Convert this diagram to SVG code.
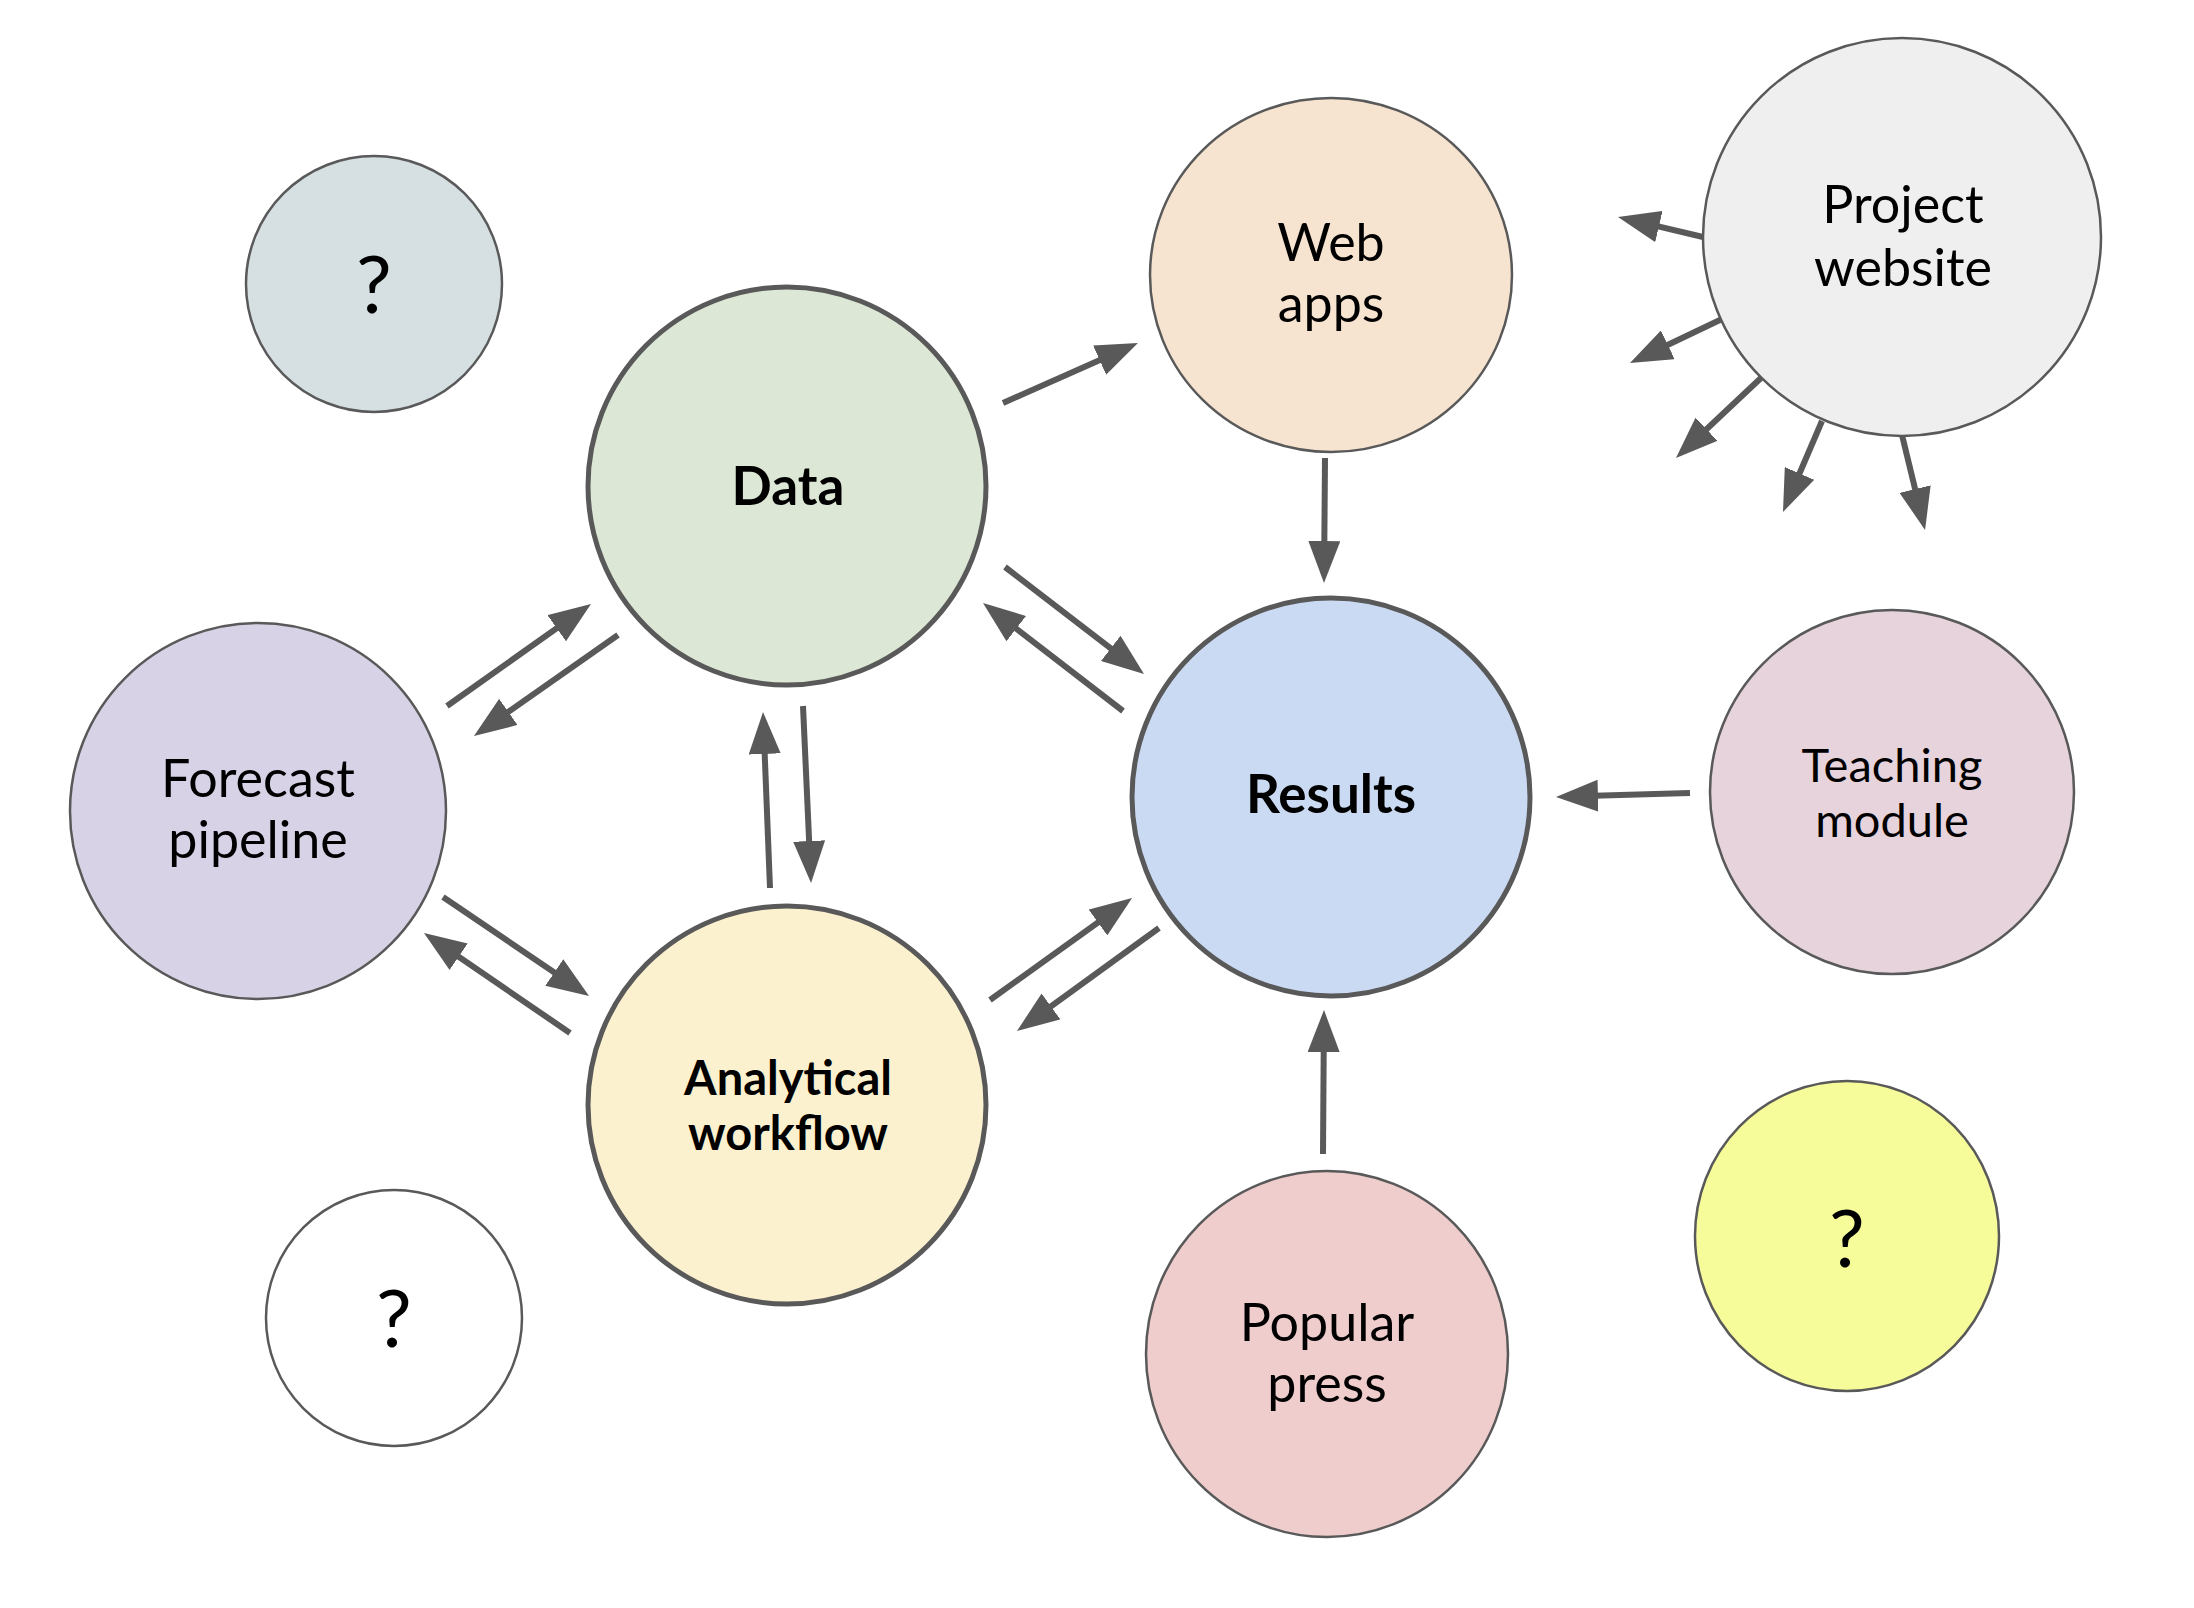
<svg xmlns="http://www.w3.org/2000/svg" width="2194" height="1608" viewBox="0 0 2194 1608">
<style>
.n{stroke:#595959;stroke-width:2.5}
.k{stroke:#595959;stroke-width:5}
.t{font-family:Lato,"Open Sans",sans-serif;font-size:52px;fill:#000;text-anchor:middle}
.b{font-weight:bold;font-size:53px}
.aw{font-weight:bold;font-size:47px}
.tm{font-size:47px}
.q{font-size:80px}
.c line{stroke:#595959;stroke-width:6;marker-end:url(#ah)}
</style>
<defs>
<marker id="ah" markerUnits="userSpaceOnUse" markerWidth="42" markerHeight="32" refX="30" refY="16" orient="auto">
<path d="M0,0 L42,16 L0,32 z" fill="#595959"/>
</marker>
</defs>
<rect width="2194" height="1608" fill="#fff"/>
<g class="c" id="connectors">
<line x1="447" y1="706" x2="581.2" y2="610.9"/>
<line x1="618" y1="635" x2="483.8" y2="729.1"/>
<line x1="803" y1="706" x2="810.5" y2="871"/>
<line x1="770" y1="888" x2="763.5" y2="724"/>
<line x1="1005" y1="567" x2="1134.5" y2="666.7"/>
<line x1="1123" y1="711" x2="992.5" y2="610.3"/>
<line x1="443" y1="897" x2="579.1" y2="989.3"/>
<line x1="570" y1="1033" x2="433.9" y2="939.8"/>
<line x1="990" y1="1000" x2="1122.3" y2="905"/>
<line x1="1159" y1="928" x2="1026.7" y2="1024"/>
<line x1="1003" y1="403" x2="1127" y2="347.9"/>
<line x1="1325" y1="458" x2="1324.1" y2="571"/>
<line x1="1690" y1="793" x2="1568" y2="796.6"/>
<line x1="1323" y1="1154" x2="1323.9" y2="1022"/>
<line x1="1703" y1="237" x2="1629.7" y2="219.7"/>
<line x1="1722" y1="319" x2="1640.8" y2="357.8"/>
<line x1="1762" y1="377" x2="1684.7" y2="449.8"/>
<line x1="1822" y1="421" x2="1787.7" y2="501"/>
<line x1="1902" y1="435" x2="1922.2" y2="518.3"/>
</g>
<g id="q1"><circle class="n" cx="374" cy="284" r="128" fill="#d6e0e3"/><text class="t q" x="374" y="313">?</text></g>
<g id="q2"><circle class="n" cx="394" cy="1318" r="128" fill="#fff"/><text class="t q" x="394" y="1347">?</text></g>
<g id="q3"><ellipse class="n" cx="1847" cy="1236" rx="152" ry="155" fill="#f7fc9a"/><text class="t q" x="1847" y="1267">?</text></g>
<g id="data"><circle class="k" cx="787" cy="486" r="199" fill="#dce8d5"/><text class="t b" x="788" y="505">Data</text></g>
<g id="results"><circle class="k" cx="1331" cy="797" r="199" fill="#cbdaf3"/><text class="t b" x="1331" y="813">Results</text></g>
<g id="analytical"><circle class="k" cx="787" cy="1105" r="199" fill="#fcf1cf"/><text class="t aw" x="788" y="1095">Analytical</text><text class="t aw" x="788" y="1150">workflow</text></g>
<g id="forecast"><circle class="n" cx="258" cy="811" r="188" fill="#d8d2e7"/><text class="t" x="258" y="797">Forecast</text><text class="t" x="258" y="858">pipeline</text></g>
<g id="webapps"><ellipse class="n" cx="1331" cy="275" rx="181" ry="177" fill="#f7e4d0"/><text class="t" x="1331" y="261">Web</text><text class="t" x="1331" y="322">apps</text></g>
<g id="website"><circle class="n" cx="1902" cy="237" r="199" fill="#efefef"/><text class="t" x="1903" y="223">Project</text><text class="t" x="1903" y="286">website</text></g>
<g id="teaching"><circle class="n" cx="1892" cy="792" r="182" fill="#e6d3dc"/><text class="t tm" x="1892" y="782">Teaching</text><text class="t tm" x="1892" y="837">module</text></g>
<g id="press"><ellipse class="n" cx="1327" cy="1354" rx="181" ry="183" fill="#eecdcc"/><text class="t" x="1327" y="1341">Popular</text><text class="t" x="1327" y="1402">press</text></g>
</svg>
